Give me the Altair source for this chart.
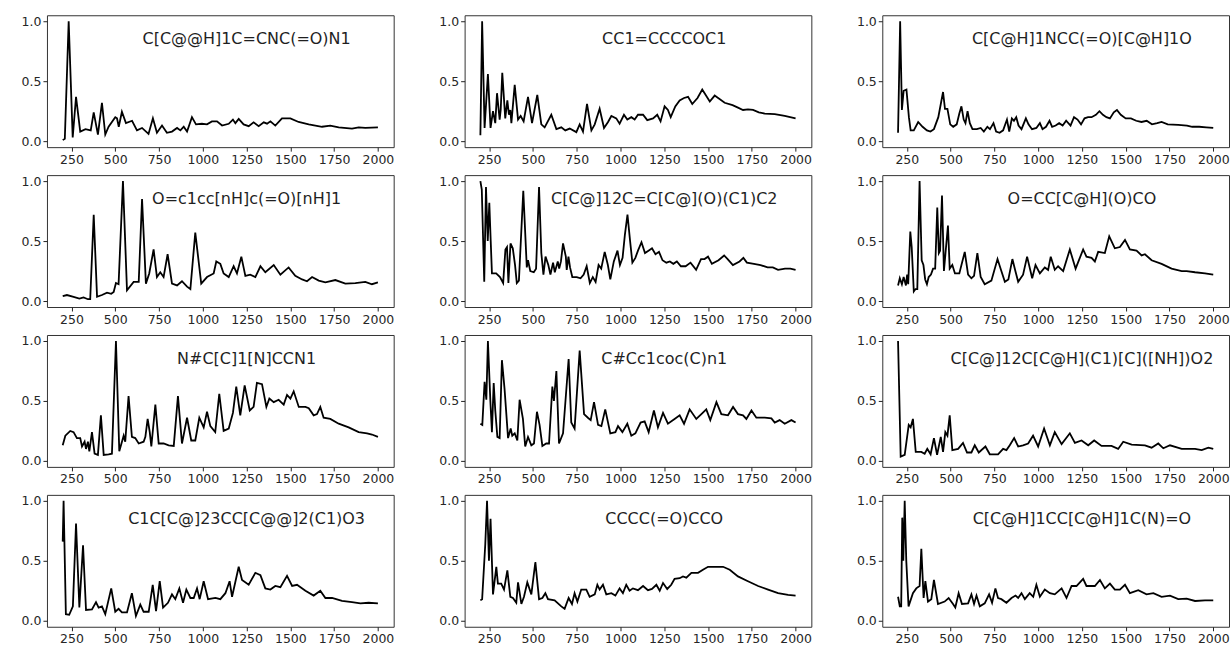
import altair as alt
import pandas as pd

titles = [
    "C[C@@H]1C=CNC(=O)N1", "CC1=CCCCOC1", "C[C@H]1NCC(=O)[C@H]1O",
    "O=c1cc[nH]c(=O)[nH]1", "C[C@]12C=C[C@](O)(C1)C2", "O=CC[C@H](O)CO",
    "N#C[C]1[N]CCN1", "C#Cc1coc(C)n1", "C[C@]12C[C@H](C1)[C]([NH])O2",
    "C1C[C@]23CC[C@@]2(C1)O3", "CCCC(=O)CCO", "C[C@H]1CC[C@H]1C(N)=O",
]

x_ticks = [250, 500, 750, 1000, 1250, 1500, 1750, 2000]
y_ticks = [0.0, 0.5, 1.0]

s1 = [(200,0.01),(212,0.02),(234,1.0),(257,0.03),(276,0.37),(300,0.08),(330,0.1),(360,0.09),(377,0.24),(401,0.055),
      (424,0.32),(443,0.055),(462,0.12),(500,0.2),(510,0.19),(520,0.12),(538,0.245),(561,0.15),(596,0.17),(624,0.09),
      (653,0.11),(690,0.06),(715,0.19),(738,0.07),(767,0.13),(795,0.07),(824,0.08),(853,0.11),(872,0.09),(891,0.12),
      (910,0.08),(938,0.2),(961,0.14),(995,0.145),(1024,0.14),(1052,0.165),(1081,0.165),(1110,0.13),(1148,0.145),(1172,0.18),
      (1186,0.15),(1205,0.185),(1233,0.14),(1262,0.125),(1290,0.157),(1319,0.125),(1348,0.157),(1367,0.146),(1386,0.165),(1414,0.13),
      (1452,0.19),(1500,0.19),(1547,0.16),(1605,0.14),(1681,0.12),(1728,0.13),(1776,0.115),(1852,0.105),(1890,0.115),(1928,0.11),(2000,0.115)]

s2 = [(200,0.05),(210,1.0),(224,0.11),(243,0.56),(258,0.11),(272,0.25),(285,0.15),(295,0.4),(310,0.18),(316,0.26),
      (325,0.57),(342,0.19),(354,0.34),(363,0.22),(371,0.26),(377,0.15),(396,0.47),(415,0.18),(430,0.21),(447,0.165),
      (472,0.37),(495,0.15),(525,0.385),(548,0.14),(567,0.115),(605,0.22),(634,0.1),(662,0.115),(685,0.09),(710,0.105),
      (748,0.075),(767,0.14),(786,0.08),(809,0.31),(834,0.09),(853,0.14),(881,0.27),(906,0.11),(929,0.16),(948,0.21),
      (976,0.19),(995,0.146),(1020,0.22),(1039,0.18),(1062,0.2),(1081,0.18),(1100,0.22),(1129,0.22),(1153,0.175),(1186,0.19),
      (1210,0.22),(1229,0.165),(1252,0.29),(1271,0.26),(1287,0.2),(1313,0.29),(1338,0.34),(1363,0.36),(1386,0.37),(1410,0.31),
      (1440,0.36),(1467,0.43),(1510,0.33),(1538,0.38),(1595,0.32),(1640,0.3),(1671,0.28),(1700,0.26),(1728,0.265),(1757,0.26),
      (1790,0.24),(1824,0.23),(1881,0.225),(1938,0.21),(2000,0.19)]

s3 = [(200,0.07),(212,1.0),(222,0.26),(232,0.42),(248,0.43),(262,0.2),(272,0.09),(290,0.09),(315,0.16),(340,0.12),
      (365,0.09),(385,0.08),(405,0.1),(430,0.2),(457,0.41),(468,0.27),(482,0.27),(498,0.14),(515,0.12),(535,0.14),
      (550,0.23),(562,0.29),(575,0.18),(585,0.15),(597,0.25),(610,0.15),(625,0.1),(650,0.1),(672,0.11),(690,0.08),
      (710,0.12),(725,0.1),(745,0.15),(760,0.08),(780,0.07),(800,0.09),(822,0.18),(835,0.08),(850,0.19),(862,0.17),
      (875,0.2),(888,0.13),(905,0.1),(930,0.19),(945,0.14),(965,0.1),(990,0.11),(1010,0.15),(1025,0.1),(1045,0.12),
      (1065,0.17),(1080,0.12),(1100,0.13),(1120,0.15),(1140,0.13),(1160,0.17),(1185,0.13),(1205,0.2),(1225,0.18),(1245,0.14),
      (1265,0.19),(1285,0.2),(1305,0.2),(1330,0.22),(1350,0.25),(1370,0.22),(1390,0.2),(1410,0.19),(1432,0.24),(1450,0.26),
      (1472,0.22),(1500,0.19),(1530,0.19),(1560,0.17),(1590,0.16),(1620,0.17),(1650,0.14),(1680,0.15),(1705,0.16),(1740,0.14),
      (1800,0.135),(1850,0.13),(1880,0.12),(1920,0.12),(1960,0.115),(2000,0.11)]

s4 = [(200,0.04),(224,0.05),(262,0.035),(295,0.02),(319,0.03),(344,0.015),(357,0.015),(377,0.72),(396,0.035),(424,0.05),
      (453,0.07),(477,0.06),(491,0.075),(504,0.15),(519,0.14),(544,1.0),(567,0.09),(605,0.16),(634,0.16),(653,0.85),
      (675,0.145),(694,0.23),(719,0.43),(738,0.2),(757,0.24),(776,0.2),(799,0.39),(824,0.145),(853,0.13),(881,0.165),
      (910,0.12),(929,0.1),(957,0.57),(991,0.145),(1024,0.2),(1062,0.23),(1077,0.33),(1100,0.31),(1119,0.23),(1148,0.2),
      (1176,0.29),(1195,0.23),(1220,0.37),(1243,0.21),(1271,0.22),(1300,0.2),(1329,0.29),(1357,0.24),(1405,0.3),(1443,0.22),
      (1490,0.28),(1528,0.21),(1567,0.18),(1595,0.165),(1624,0.2),(1662,0.17),(1700,0.155),(1757,0.175),(1814,0.145),(1871,0.15),
      (1928,0.16),(1966,0.14),(2000,0.155)]

s5 = [(200,1.0),(208,0.93),(222,0.16),(232,0.95),(242,0.5),(251,0.82),(259,0.5),(266,0.23),(290,0.23),(312,0.2),
      (330,0.15),(343,0.43),(352,0.45),(360,0.15),(372,0.48),(385,0.44),(398,0.3),(408,0.15),(420,0.17),(445,0.92),
      (465,0.28),(472,0.34),(485,0.25),(505,0.24),(518,0.27),(535,0.95),(548,0.4),(560,0.22),(572,0.37),(588,0.3),
      (600,0.22),(615,0.32),(625,0.24),(642,0.33),(650,0.27),(660,0.33),(672,0.48),(688,0.37),(693,0.26),(703,0.37),
      (712,0.28),(725,0.2),(750,0.2),(772,0.19),(790,0.22),(807,0.29),(825,0.15),(842,0.2),(858,0.16),(875,0.3),
      (890,0.27),(910,0.41),(928,0.3),(942,0.18),(962,0.33),(983,0.42),(997,0.3),(1012,0.36),(1025,0.55),(1040,0.72),
      (1055,0.5),(1068,0.32),(1085,0.36),(1100,0.42),(1120,0.49),(1140,0.4),(1160,0.42),(1180,0.44),(1200,0.39),(1220,0.41),
      (1240,0.34),(1262,0.32),(1282,0.33),(1302,0.31),(1322,0.33),(1345,0.29),(1372,0.29),(1400,0.32),(1432,0.26),(1460,0.35),
      (1480,0.35),(1500,0.37),(1522,0.31),(1560,0.34),(1592,0.38),(1612,0.35),(1642,0.3),(1680,0.33),(1702,0.36),(1722,0.32),
      (1762,0.31),(1800,0.3),(1840,0.28),(1870,0.28),(1900,0.26),(1940,0.27),(1970,0.27),(2000,0.26)]

s6 = [(200,0.13),(210,0.19),(222,0.14),(232,0.2),(245,0.13),(252,0.22),(258,0.14),(270,0.58),(278,0.45),(290,0.08),
      (300,0.1),(310,0.1),(323,1.0),(335,0.34),(345,0.3),(355,0.18),(365,0.14),(375,0.2),(388,0.22),(400,0.27),
      (412,0.27),(424,0.78),(433,0.4),(440,0.42),(451,0.88),(462,0.25),(485,0.63),(495,0.27),(510,0.3),(525,0.23),
      (550,0.23),(581,0.41),(600,0.22),(619,0.19),(634,0.21),(653,0.4),(672,0.2),(695,0.14),(733,0.17),(768,0.35),
      (790,0.25),(810,0.16),(830,0.18),(853,0.35),(870,0.25),(886,0.16),(914,0.22),(937,0.37),(966,0.19),(985,0.3),
      (1010,0.23),(1038,0.28),(1057,0.26),(1072,0.37),(1095,0.26),(1114,0.29),(1143,0.25),(1181,0.43),(1214,0.27),(1257,0.43),
      (1276,0.37),(1305,0.36),(1324,0.33),(1343,0.41),(1381,0.4),(1406,0.54),(1438,0.44),(1467,0.45),(1496,0.51),(1524,0.43),
      (1562,0.42),(1591,0.38),(1610,0.39),(1648,0.34),(1705,0.31),(1762,0.27),(1820,0.25),(1848,0.25),(1896,0.24),(1953,0.23),
      (2000,0.22)]

s7 = [(200,0.13),(215,0.21),(243,0.25),(262,0.24),(281,0.19),(300,0.19),(310,0.12),(325,0.16),(333,0.1),(344,0.16),
      (352,0.08),(367,0.24),(382,0.06),(401,0.05),(418,0.38),(434,0.05),(462,0.055),(481,0.06),(504,1.0),(523,0.08),
      (548,0.21),(557,0.16),(576,0.54),(595,0.2),(614,0.19),(634,0.145),(662,0.16),(672,0.2),(685,0.35),(697,0.24),
      (706,0.12),(729,0.47),(748,0.145),(776,0.145),(805,0.13),(834,0.125),(858,0.54),(881,0.145),(910,0.36),(934,0.17),
      (957,0.17),(980,0.36),(1005,0.28),(1024,0.41),(1043,0.29),(1071,0.24),(1094,0.56),(1119,0.25),(1148,0.27),(1172,0.4),
      (1191,0.62),(1214,0.38),(1239,0.63),(1268,0.42),(1290,0.45),(1309,0.65),(1338,0.64),(1363,0.45),(1380,0.52),(1405,0.49),
      (1433,0.51),(1462,0.47),(1481,0.55),(1500,0.52),(1519,0.58),(1548,0.45),(1586,0.45),(1605,0.44),(1633,0.38),(1652,0.39),
      (1671,0.45),(1690,0.36),(1728,0.35),(1776,0.31),(1833,0.28),(1890,0.24),(1938,0.23),(1966,0.22),(2000,0.2)]

s8 = [(200,0.31),(211,0.3),(224,0.66),(234,0.51),(243,1.0),(257,0.5),(266,0.24),(276,0.65),(285,0.42),(297,0.2),
      (310,0.19),(323,0.84),(338,0.6),(358,0.19),(373,0.27),(382,0.21),(396,0.23),(411,0.17),(424,0.51),(443,0.35),
      (456,0.12),(472,0.2),(491,0.13),(506,0.145),(523,0.41),(538,0.3),(554,0.125),(576,0.145),(592,0.145),(611,0.62),
      (620,0.5),(634,0.75),(649,0.145),(672,0.23),(704,0.85),(719,0.32),(738,0.27),(767,0.92),(792,0.39),(814,0.36),
      (830,0.34),(849,0.49),(872,0.3),(891,0.29),(913,0.43),(942,0.23),(971,0.24),(986,0.29),(1011,0.24),(1039,0.31),
      (1062,0.21),(1085,0.23),(1115,0.32),(1138,0.33),(1161,0.24),(1191,0.42),(1214,0.28),(1243,0.4),(1271,0.31),(1309,0.35),
      (1338,0.38),(1363,0.31),(1395,0.43),(1433,0.35),(1462,0.39),(1490,0.43),(1513,0.34),(1548,0.49),(1576,0.39),(1614,0.38),
      (1643,0.45),(1671,0.39),(1700,0.38),(1719,0.35),(1748,0.42),(1776,0.36),(1824,0.36),(1862,0.355),(1881,0.32),(1909,0.34),
      (1938,0.31),(1976,0.34),(2000,0.32)]

s9 = [(200,1.0),(215,0.035),(238,0.05),(261,0.3),(272,0.28),(285,0.35),(301,0.075),(333,0.075),(352,0.06),(367,0.1),
      (386,0.055),(405,0.19),(423,0.05),(444,0.2),(457,0.075),(470,0.24),(482,0.21),(495,0.38),(510,0.09),(543,0.1),
      (571,0.15),(594,0.07),(619,0.07),(638,0.13),(661,0.07),(699,0.12),(724,0.055),(771,0.055),(800,0.1),(819,0.09),
      (838,0.13),(863,0.19),(886,0.12),(914,0.13),(943,0.145),(971,0.21),(1000,0.12),(1034,0.27),(1067,0.13),(1095,0.24),
      (1134,0.14),(1181,0.23),(1210,0.15),(1248,0.17),(1286,0.13),(1320,0.17),(1362,0.125),(1419,0.125),(1457,0.1),(1486,0.16),
      (1534,0.135),(1610,0.13),(1648,0.11),(1686,0.145),(1715,0.105),(1753,0.13),(1820,0.1),(1896,0.1),(1934,0.09),(1972,0.11),
      (2000,0.1)]

s10 = [(200,0.66),(205,1.0),(218,0.055),(237,0.05),(258,0.12),(276,0.81),(295,0.11),(316,0.63),(333,0.09),(367,0.095),
       (390,0.155),(405,0.11),(424,0.12),(443,0.055),(477,0.27),(500,0.075),(519,0.1),(538,0.07),(567,0.07),(595,0.23),
       (618,0.04),(643,0.135),(662,0.075),(691,0.075),(714,0.3),(733,0.08),(754,0.33),(773,0.11),(801,0.15),(824,0.22),
       (843,0.18),(866,0.27),(887,0.15),(906,0.26),(929,0.19),(948,0.19),(967,0.27),(982,0.18),(1005,0.33),(1030,0.18),
       (1072,0.19),(1100,0.18),(1129,0.23),(1153,0.33),(1167,0.2),(1205,0.45),(1224,0.34),(1262,0.3),(1300,0.4),(1329,0.38),
       (1357,0.27),(1386,0.26),(1414,0.29),(1443,0.28),(1481,0.375),(1510,0.29),(1538,0.3),(1586,0.25),(1633,0.21),(1671,0.25),
       (1700,0.19),(1738,0.19),(1795,0.165),(1852,0.155),(1900,0.145),(1947,0.15),(2000,0.145)]

s11 = [(200,0.17),(210,0.18),(228,0.64),(238,1.0),(249,0.5),(258,0.85),(272,0.22),(291,0.45),(300,0.31),(319,0.31),
       (335,0.26),(354,0.42),(371,0.2),(386,0.19),(405,0.15),(415,0.32),(434,0.14),(449,0.2),(468,0.32),(491,0.22),
       (514,0.49),(535,0.18),(554,0.19),(571,0.23),(586,0.18),(624,0.17),(662,0.12),(681,0.1),(704,0.19),(723,0.14),
       (738,0.23),(754,0.16),(776,0.26),(805,0.26),(824,0.2),(853,0.22),(868,0.3),(881,0.26),(900,0.3),(919,0.22),
       (948,0.23),(971,0.21),(995,0.27),(1014,0.23),(1033,0.3),(1052,0.25),(1071,0.27),(1100,0.255),(1129,0.29),(1157,0.255),
       (1180,0.265),(1205,0.3),(1224,0.25),(1243,0.315),(1267,0.265),(1290,0.3),(1309,0.35),(1338,0.355),(1357,0.37),(1376,0.36),
       (1405,0.4),(1443,0.4),(1471,0.425),(1500,0.45),(1538,0.45),(1586,0.45),(1624,0.425),(1671,0.37),(1728,0.33),(1786,0.29),
       (1843,0.26),(1900,0.23),(1957,0.215),(2000,0.21)]

s12 = [(200,0.2),(210,0.12),(218,0.12),(224,0.86),(230,0.5),(238,1.0),(247,0.5),(260,0.12),(285,0.23),(304,0.27),
       (323,0.29),(333,0.6),(346,0.19),(356,0.33),(371,0.16),(390,0.18),(405,0.34),(428,0.14),(466,0.16),(489,0.19),
       (514,0.14),(527,0.11),(546,0.23),(565,0.14),(600,0.145),(619,0.22),(634,0.14),(648,0.21),(667,0.12),(695,0.145),
       (720,0.22),(737,0.15),(756,0.27),(771,0.19),(790,0.18),(819,0.15),(848,0.19),(871,0.21),(886,0.19),(905,0.23),
       (924,0.18),(952,0.23),(972,0.2),(990,0.3),(1010,0.2),(1038,0.26),(1067,0.23),(1095,0.22),(1134,0.27),(1162,0.19),
       (1191,0.29),(1219,0.29),(1257,0.35),(1276,0.29),(1324,0.29),(1353,0.34),(1381,0.27),(1410,0.31),(1438,0.26),(1467,0.26),
       (1496,0.3),(1524,0.23),(1572,0.255),(1619,0.22),(1658,0.23),(1705,0.2),(1753,0.21),(1800,0.18),(1848,0.185),(1896,0.165),
       (1953,0.17),(2000,0.17)]

series = [s1, s2, s3, s4, s5, s6, s7, s8, s9, s10, s11, s12]

# title anchor (data units) inside each panel
title_x = 1250
title_y = 0.85

PANEL_W, PANEL_H = 347, 132
FONT = "DejaVu Sans"

x_scale = alt.Scale(domain=[110, 2090], nice=False, zero=False)
y_scale = alt.Scale(domain=[-0.05, 1.05], nice=False, zero=False)

panels = []
for t, s in zip(titles, series):
    df = pd.DataFrame(s, columns=["x", "y"])
    line = alt.Chart(df).mark_line(color="black", strokeWidth=1.8, clip=True).encode(
        x=alt.X("x:Q", scale=x_scale,
                axis=alt.Axis(values=x_ticks, format="d", title=None)),
        y=alt.Y("y:Q", scale=y_scale,
                axis=alt.Axis(values=y_ticks, format=".1f", title=None)),
    )
    lab = alt.Chart(pd.DataFrame({"x": [title_x], "y": [title_y], "t": [t]})).mark_text(
        font=FONT, fontSize=16, color="#1f1f1f", align="center", baseline="middle"
    ).encode(x="x:Q", y="y:Q", text="t:N")
    panels.append(alt.layer(line, lab).properties(width=PANEL_W, height=PANEL_H))

chart = alt.concat(
    *panels, columns=3, spacing={"row": 28, "column": 71}, bounds="flush"
).properties(
    padding={"left": 20, "top": 14, "right": 2, "bottom": 2},
    background="white",
).configure_view(
    stroke="#333333", strokeWidth=1
).configure_axis(
    domain=False, grid=False, ticks=True, tickSize=4, tickColor="#222222", tickWidth=1,
    labelFont=FONT, labelFontSize=12.5, labelColor="#262626", labelPadding=2,
    labelOverlap=False, labelFlush=False,
)

chart.save("out.html", embed_options={"renderer": "svg", "actions": False})
